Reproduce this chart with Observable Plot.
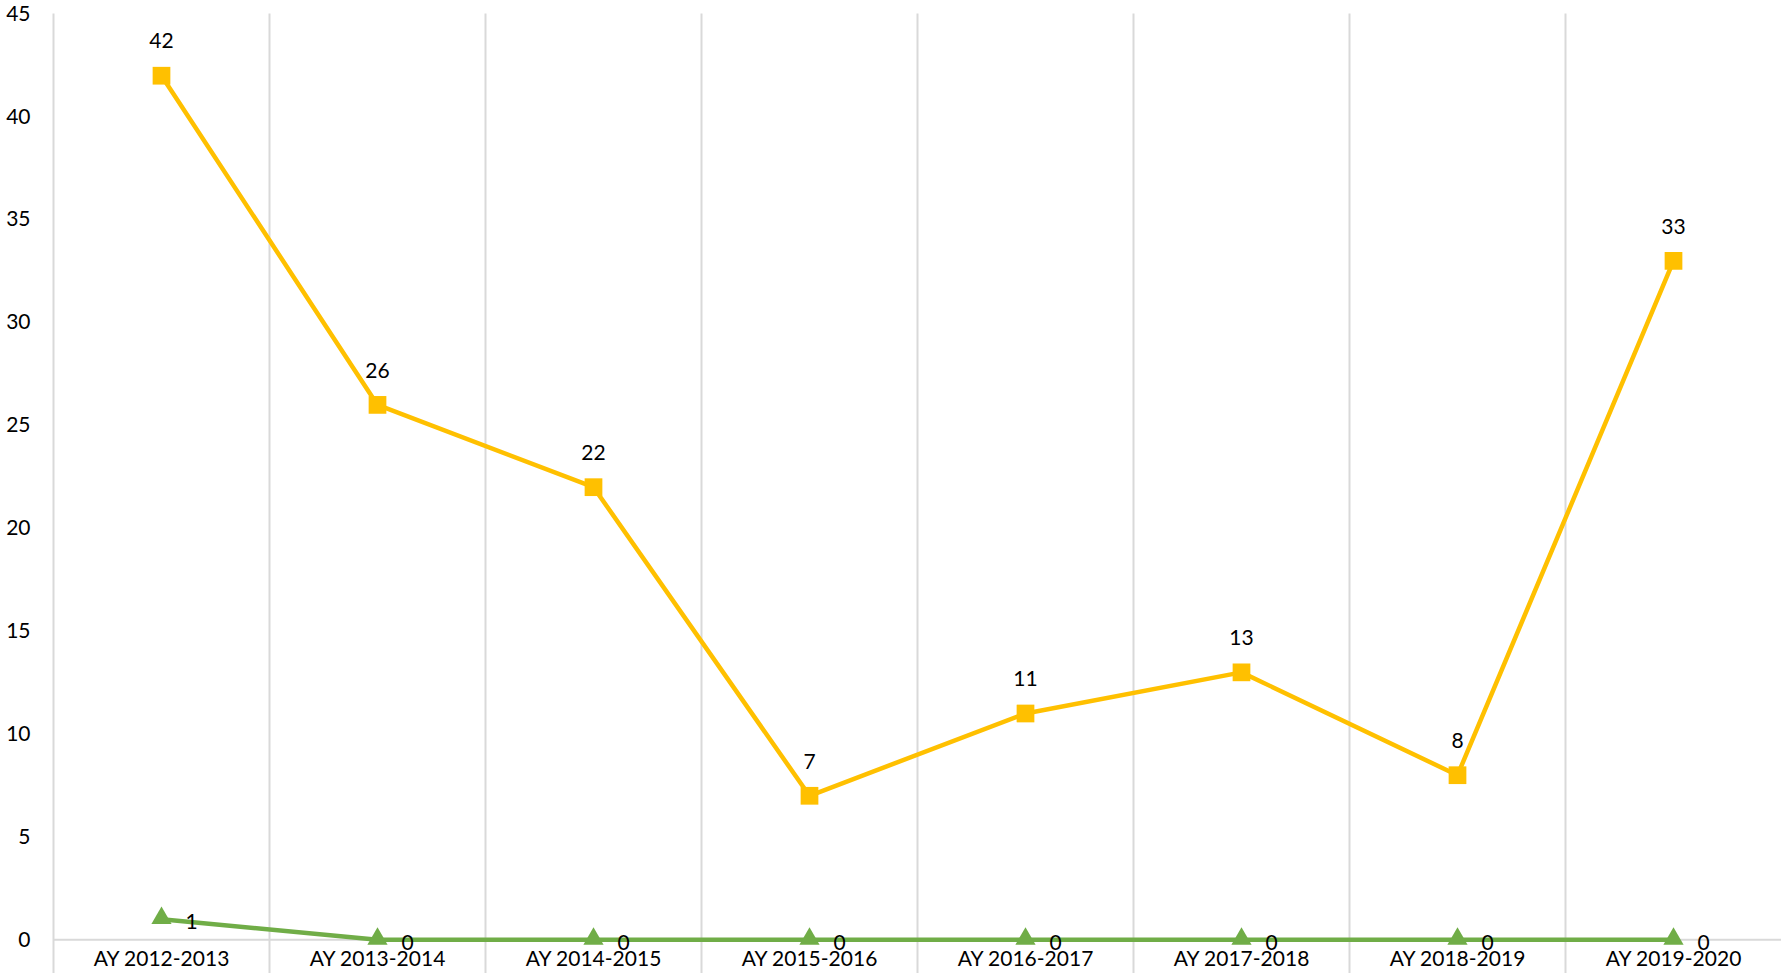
<!DOCTYPE html>
<html>
<head>
<meta charset="utf-8">
<script src="https://cdn.jsdelivr.net/npm/d3@7"></script>
<script src="https://cdn.jsdelivr.net/npm/@observablehq/plot@0.6"></script>
<style>
  html, body { margin: 0; padding: 0; background: #fff; }
  #chart svg { display: block; }
</style>
</head>
<body>
<div id="chart"></div>
<script>
const categories = ["AY 2012-2013", "AY 2013-2014", "AY 2014-2015", "AY 2015-2016", "AY 2016-2017", "AY 2017-2018", "AY 2018-2019", "AY 2019-2020"];
const seriesA = [42, 26, 22, 7, 11, 13, 8, 33];
const seriesB = [1, 0, 0, 0, 0, 0, 0, 0];
const yTicks = [0, 5, 10, 15, 20, 25, 30, 35, 40, 45];

const rows = categories.map((c, i) => ({cat: c, a: seriesA[i], b: seriesB[i]}));

const width = 1781, height = 973;
const marginLeft = 53, marginRight = 0, marginTop = 13.5, marginBottom = 33.7;
const step = (width - marginLeft - marginRight) / categories.length;

const chart = Plot.plot({
  width, height, marginLeft, marginRight, marginTop, marginBottom,
  style: {fontFamily: "Lato, 'Open Sans', sans-serif", fontSize: "21px", color: "#000", background: "#fff"},
  x: {type: "point", domain: categories, padding: 0.5, label: null},
  y: {domain: [0, 45], label: null},
  marks: [
    Plot.ruleX(categories, {x: d => d, dx: -step / 2, stroke: "#d9d9d9", strokeWidth: 2, insetBottom: -marginBottom}),
    Plot.ruleY([0], {stroke: "#d9d9d9", strokeWidth: 2}),
    Plot.axisY({ticks: yTicks, tickSize: 0, tickPadding: 23, fontSize: 21, label: null}),
    Plot.axisX({tickSize: 0, tickPadding: 11.5, fontSize: 21, label: null}),
    Plot.lineY(rows, {x: "cat", y: "b", stroke: "#70AD47", strokeWidth: 4.5}),
    Plot.lineY(rows, {x: "cat", y: "a", stroke: "#FFC000", strokeWidth: 4.5}),
    Plot.dot(rows, {x: "cat", y: "a", symbol: "square", r: 10, fill: "#FFC000", stroke: "none"}),
    Plot.dot(rows, {x: "cat", y: "b", symbol: "triangle", r: 7.5, fill: "#70AD47", stroke: "none", dy: -1}),
    Plot.text(rows, {x: "cat", y: "a", text: d => String(d.a), dy: -34, fontSize: 21, fill: "#000"}),
    Plot.text(rows, {x: "cat", y: "b", text: d => String(d.b), dx: 30, dy: 3, fontSize: 21, fill: "#000"})
  ]
});
document.getElementById("chart").appendChild(chart);
</script>
</body>
</html>
